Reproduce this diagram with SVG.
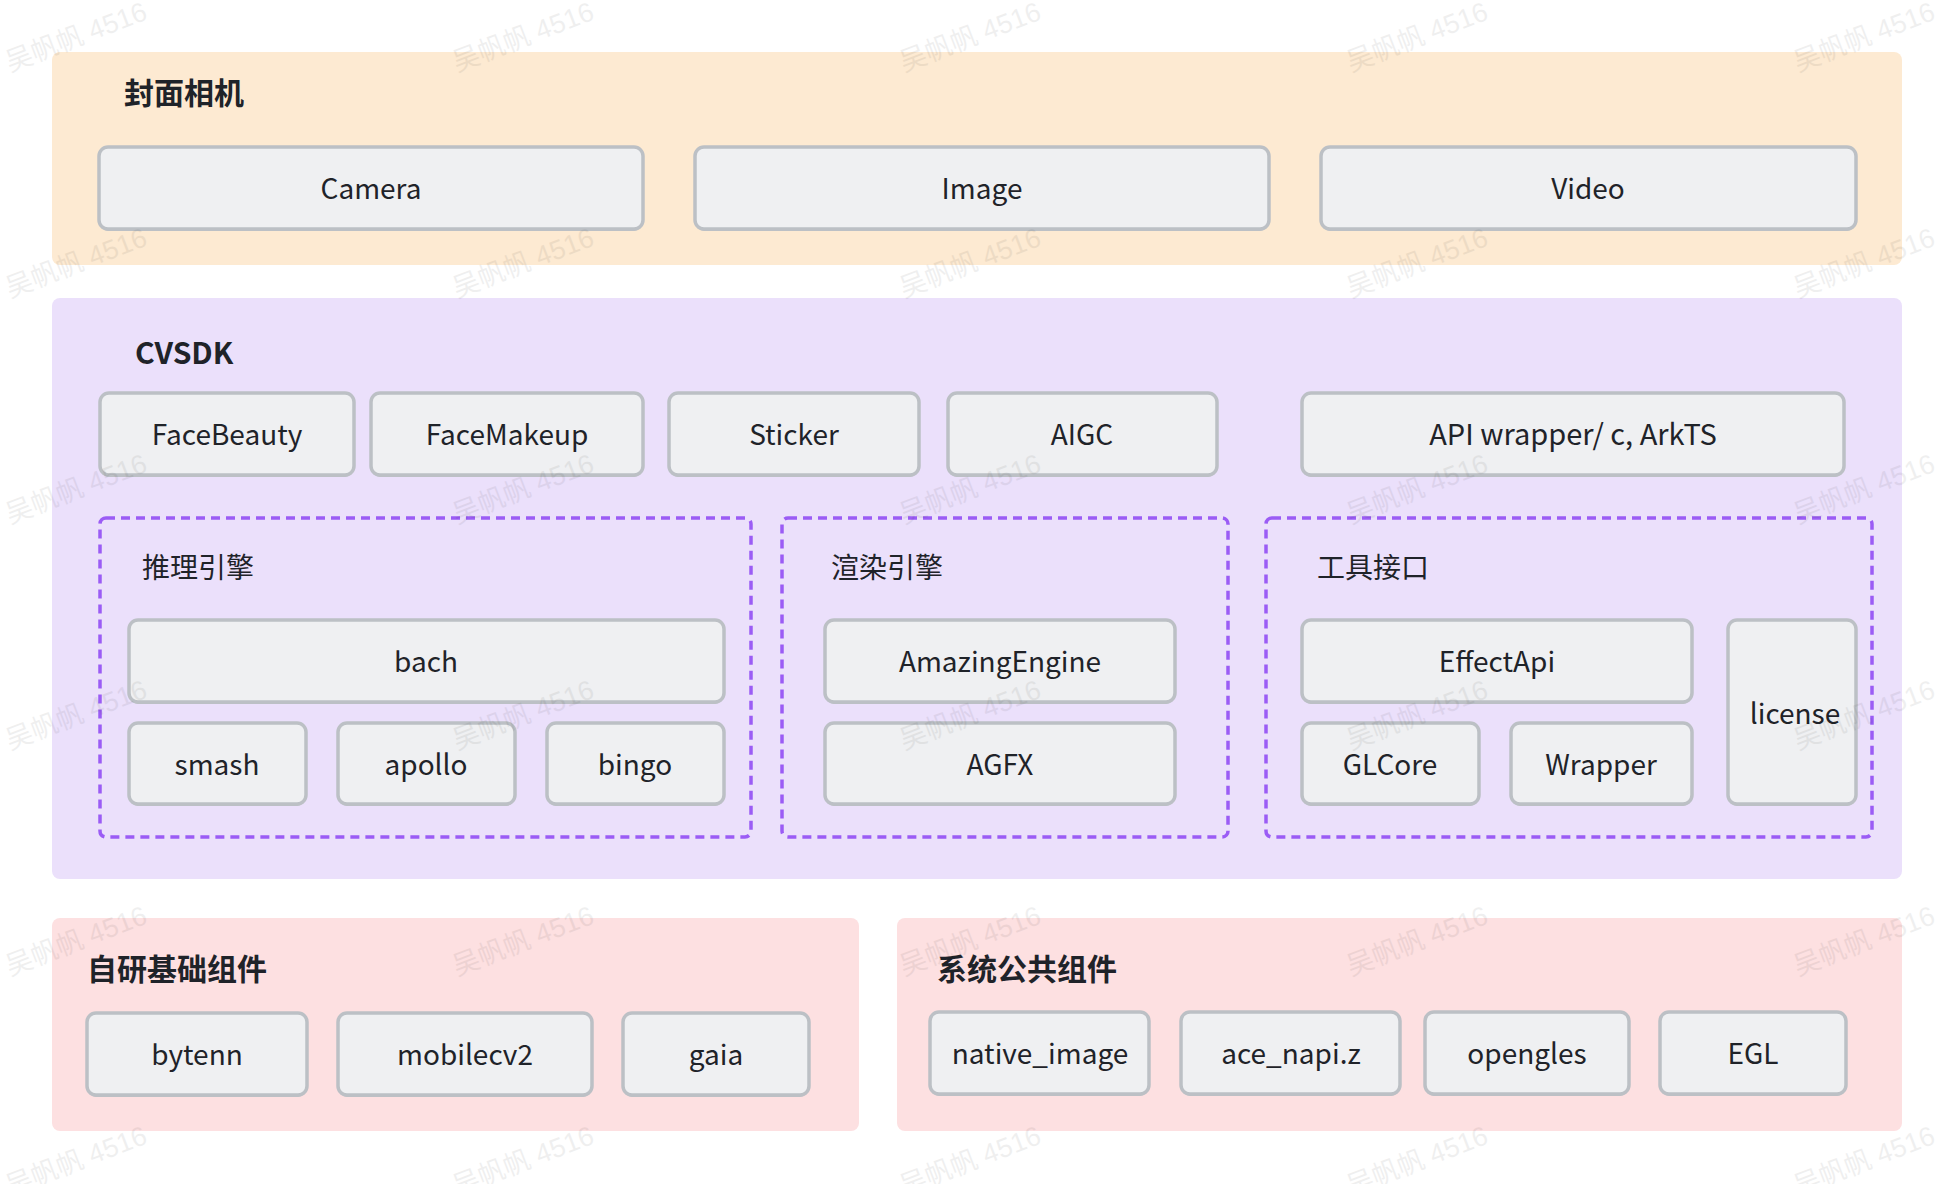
<svg xmlns="http://www.w3.org/2000/svg" width="1956" height="1184" viewBox="0 0 1956 1184">
<style>
.panel{stroke:none}
.box{fill:#eff0f2;stroke:#bcc0c5;stroke-width:3.5}
.shadow{fill:#bcc0c5}
.dash{fill:none;stroke:#9b5cf5;stroke-width:3.5;stroke-dasharray:9 6}
.lbl{font-family:"Noto Sans CJK SC","Noto Sans",sans-serif;font-size:28px;fill:#1f2329;text-anchor:middle}
.ttl{font-family:"Noto Sans CJK SC","Noto Sans",sans-serif;font-size:30px;font-weight:bold;fill:#1f2329}
.sub{font-family:"Noto Sans CJK SC","Noto Sans",sans-serif;font-size:28px;fill:#1f2329}
.wm{font-family:"Liberation Sans","Noto Sans CJK SC",sans-serif;font-size:27px;fill:#000;opacity:0.06}
</style>
<rect width="1956" height="1184" fill="#ffffff"/>

<g id="panel-cover">
<rect class="panel" x="52" y="52" width="1850" height="213" rx="8" fill="#fdead2"/>
<text class="ttl" x="124" y="104">封面相机</text>
</g>
<g id="panel-cvsdk">
<rect class="panel" x="52" y="298" width="1850" height="581" rx="8" fill="#ebe0fb"/>
<text class="ttl" x="135" y="364">CVSDK</text>
</g>
<g id="panel-own">
<rect class="panel" x="52" y="918" width="807" height="213" rx="8" fill="#fde0e1"/>
<text class="ttl" x="87" y="980">自研基础组件</text>
</g>
<g id="panel-sys">
<rect class="panel" x="897" y="918" width="1005" height="213" rx="8" fill="#fde0e1"/>
<text class="ttl" x="937" y="980">系统公共组件</text>
</g>

<g id="group-infer">
<rect class="dash" x="100" y="518" width="651" height="319" rx="6"/>
<text class="sub" x="142" y="578">推理引擎</text>
</g>
<g id="group-render">
<rect class="dash" x="782" y="518" width="446" height="319" rx="6"/>
<text class="sub" x="831" y="578">渲染引擎</text>
</g>
<g id="group-tools">
<rect class="dash" x="1266" y="518" width="606" height="319" rx="6"/>
<text class="sub" x="1317" y="578">工具接口</text>
</g>

<g id="node-camera"><rect class="shadow" x="99" y="149" width="544" height="82" rx="9"/><rect class="box" x="99" y="147" width="544" height="82" rx="9"/><text class="lbl" x="371" y="199">Camera</text></g>
<g id="node-image"><rect class="shadow" x="695" y="149" width="574" height="82" rx="9"/><rect class="box" x="695" y="147" width="574" height="82" rx="9"/><text class="lbl" x="982" y="199">Image</text></g>
<g id="node-video"><rect class="shadow" x="1321" y="149" width="535" height="82" rx="9"/><rect class="box" x="1321" y="147" width="535" height="82" rx="9"/><text class="lbl" x="1588" y="199">Video</text></g>

<g id="node-facebeauty"><rect class="shadow" x="100" y="395" width="254" height="82" rx="9"/><rect class="box" x="100" y="393" width="254" height="82" rx="9"/><text class="lbl" x="227" y="445">FaceBeauty</text></g>
<g id="node-facemakeup"><rect class="shadow" x="371" y="395" width="272" height="82" rx="9"/><rect class="box" x="371" y="393" width="272" height="82" rx="9"/><text class="lbl" x="507" y="445">FaceMakeup</text></g>
<g id="node-sticker"><rect class="shadow" x="669" y="395" width="250" height="82" rx="9"/><rect class="box" x="669" y="393" width="250" height="82" rx="9"/><text class="lbl" x="794" y="445">Sticker</text></g>
<g id="node-aigc"><rect class="shadow" x="948" y="395" width="269" height="82" rx="9"/><rect class="box" x="948" y="393" width="269" height="82" rx="9"/><text class="lbl" x="1082" y="445">AIGC</text></g>
<g id="node-apiwrapper"><rect class="shadow" x="1302" y="395" width="542" height="82" rx="9"/><rect class="box" x="1302" y="393" width="542" height="82" rx="9"/><text class="lbl" x="1573" y="445" style="font-size:29px">API wrapper/ c, ArkTS</text></g>

<g id="node-bach"><rect class="shadow" x="129" y="622" width="595" height="82" rx="9"/><rect class="box" x="129" y="620" width="595" height="82" rx="9"/><text class="lbl" x="426" y="672">bach</text></g>
<g id="node-smash"><rect class="shadow" x="129" y="725" width="177" height="81" rx="9"/><rect class="box" x="129" y="723" width="177" height="81" rx="9"/><text class="lbl" x="217" y="775">smash</text></g>
<g id="node-apollo"><rect class="shadow" x="338" y="725" width="177" height="81" rx="9"/><rect class="box" x="338" y="723" width="177" height="81" rx="9"/><text class="lbl" x="426" y="775">apollo</text></g>
<g id="node-bingo"><rect class="shadow" x="547" y="725" width="177" height="81" rx="9"/><rect class="box" x="547" y="723" width="177" height="81" rx="9"/><text class="lbl" x="635" y="775">bingo</text></g>

<g id="node-amazingengine"><rect class="shadow" x="825" y="622" width="350" height="82" rx="9"/><rect class="box" x="825" y="620" width="350" height="82" rx="9"/><text class="lbl" x="1000" y="672">AmazingEngine</text></g>
<g id="node-agfx"><rect class="shadow" x="825" y="725" width="350" height="81" rx="9"/><rect class="box" x="825" y="723" width="350" height="81" rx="9"/><text class="lbl" x="1000" y="775">AGFX</text></g>

<g id="node-effectapi"><rect class="shadow" x="1302" y="622" width="390" height="82" rx="9"/><rect class="box" x="1302" y="620" width="390" height="82" rx="9"/><text class="lbl" x="1497" y="672">EffectApi</text></g>
<g id="node-glcore"><rect class="shadow" x="1302" y="725" width="177" height="81" rx="9"/><rect class="box" x="1302" y="723" width="177" height="81" rx="9"/><text class="lbl" x="1390" y="775">GLCore</text></g>
<g id="node-wrapper"><rect class="shadow" x="1511" y="725" width="181" height="81" rx="9"/><rect class="box" x="1511" y="723" width="181" height="81" rx="9"/><text class="lbl" x="1601" y="775">Wrapper</text></g>
<g id="node-license"><rect class="shadow" x="1728" y="622" width="128" height="184" rx="9"/><rect class="box" x="1728" y="620" width="128" height="184" rx="9"/><text class="lbl" x="1795" y="724">license</text></g>

<g id="node-bytenn"><rect class="shadow" x="87" y="1015" width="220" height="82" rx="9"/><rect class="box" x="87" y="1013" width="220" height="82" rx="9"/><text class="lbl" x="197" y="1065">bytenn</text></g>
<g id="node-mobilecv2"><rect class="shadow" x="338" y="1015" width="254" height="82" rx="9"/><rect class="box" x="338" y="1013" width="254" height="82" rx="9"/><text class="lbl" x="465" y="1065">mobilecv2</text></g>
<g id="node-gaia"><rect class="shadow" x="623" y="1015" width="186" height="82" rx="9"/><rect class="box" x="623" y="1013" width="186" height="82" rx="9"/><text class="lbl" x="716" y="1065">gaia</text></g>

<g id="node-nativeimage"><rect class="shadow" x="930" y="1014" width="219" height="82" rx="9"/><rect class="box" x="930" y="1012" width="219" height="82" rx="9"/><text class="lbl" x="1040" y="1064">native_image</text></g>
<g id="node-acenapi"><rect class="shadow" x="1181" y="1014" width="219" height="82" rx="9"/><rect class="box" x="1181" y="1012" width="219" height="82" rx="9"/><text class="lbl" x="1291" y="1064">ace_napi.z</text></g>
<g id="node-opengles"><rect class="shadow" x="1425" y="1014" width="204" height="82" rx="9"/><rect class="box" x="1425" y="1012" width="204" height="82" rx="9"/><text class="lbl" x="1527" y="1064">opengles</text></g>
<g id="node-egl"><rect class="shadow" x="1660" y="1014" width="186" height="82" rx="9"/><rect class="box" x="1660" y="1012" width="186" height="82" rx="9"/><text class="lbl" x="1753" y="1064">EGL</text></g>

<g id="connectors"></g>

<g id="watermark">
<text class="wm" transform="translate(10,72) rotate(-21)">吴帆帆 4516</text>
<text class="wm" transform="translate(457,72) rotate(-21)">吴帆帆 4516</text>
<text class="wm" transform="translate(904,72) rotate(-21)">吴帆帆 4516</text>
<text class="wm" transform="translate(1351,72) rotate(-21)">吴帆帆 4516</text>
<text class="wm" transform="translate(1798,72) rotate(-21)">吴帆帆 4516</text>
<text class="wm" transform="translate(10,298) rotate(-21)">吴帆帆 4516</text>
<text class="wm" transform="translate(457,298) rotate(-21)">吴帆帆 4516</text>
<text class="wm" transform="translate(904,298) rotate(-21)">吴帆帆 4516</text>
<text class="wm" transform="translate(1351,298) rotate(-21)">吴帆帆 4516</text>
<text class="wm" transform="translate(1798,298) rotate(-21)">吴帆帆 4516</text>
<text class="wm" transform="translate(10,524) rotate(-21)">吴帆帆 4516</text>
<text class="wm" transform="translate(457,524) rotate(-21)">吴帆帆 4516</text>
<text class="wm" transform="translate(904,524) rotate(-21)">吴帆帆 4516</text>
<text class="wm" transform="translate(1351,524) rotate(-21)">吴帆帆 4516</text>
<text class="wm" transform="translate(1798,524) rotate(-21)">吴帆帆 4516</text>
<text class="wm" transform="translate(10,750) rotate(-21)">吴帆帆 4516</text>
<text class="wm" transform="translate(457,750) rotate(-21)">吴帆帆 4516</text>
<text class="wm" transform="translate(904,750) rotate(-21)">吴帆帆 4516</text>
<text class="wm" transform="translate(1351,750) rotate(-21)">吴帆帆 4516</text>
<text class="wm" transform="translate(1798,750) rotate(-21)">吴帆帆 4516</text>
<text class="wm" transform="translate(10,976) rotate(-21)">吴帆帆 4516</text>
<text class="wm" transform="translate(457,976) rotate(-21)">吴帆帆 4516</text>
<text class="wm" transform="translate(904,976) rotate(-21)">吴帆帆 4516</text>
<text class="wm" transform="translate(1351,976) rotate(-21)">吴帆帆 4516</text>
<text class="wm" transform="translate(1798,976) rotate(-21)">吴帆帆 4516</text>
<text class="wm" transform="translate(10,1196) rotate(-21)">吴帆帆 4516</text>
<text class="wm" transform="translate(457,1196) rotate(-21)">吴帆帆 4516</text>
<text class="wm" transform="translate(904,1196) rotate(-21)">吴帆帆 4516</text>
<text class="wm" transform="translate(1351,1196) rotate(-21)">吴帆帆 4516</text>
<text class="wm" transform="translate(1798,1196) rotate(-21)">吴帆帆 4516</text>
</g>
</svg>
